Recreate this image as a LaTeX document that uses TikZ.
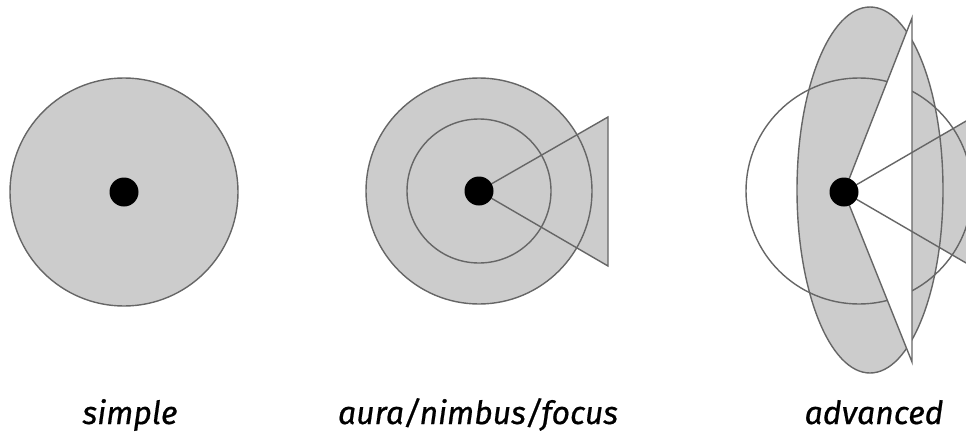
\documentclass[tikz,border=0pt]{standalone}
\usepackage{fontspec}
\setsansfont{Fira Sans}[FakeBold=0.6]
\begin{document}
\begin{tikzpicture}[x=1pt,y=-1pt,
	area/.style={ fill=black!20, draw=black!60, line width=1.4pt },
	rim/.style={ draw=black!60, line width=1.4pt },
	blank/.style={ fill=white, draw=black!60, line width=1.4pt },
	source/.style={ circle, fill=black, inner sep=0pt, minimum size=29pt },
	caption/.style={ anchor=base, font=\sffamily\itshape\fontsize{32}{34}\selectfont }
]
\useasboundingbox (0,0) rectangle (966,434);

% simple
\draw[area] (124,192) circle (114);
\node at (124,192) (s) [source] {};
\node at (130,424) (ls) [caption] {simple};

% aura/nimbus/focus
\coordinate (ac) at (479,191);
\coordinate (f1) at (608,117);
\coordinate (f2) at (608,266);
\fill[black!20] (ac) circle (113);
\fill[black!20] (ac) -- (f1) -- (f2) -- cycle;
\draw[rim] (ac) circle (113);
\draw[rim] (ac) circle (72);
\draw[rim] (ac) -- (f1) -- (f2) -- cycle;
\node at (ac) (a) [source] {};
\node at (478,424) (la) [caption] {aura/nimbus/focus};

% advanced
\coordinate (dc) at (844,192);
\coordinate (g1) at (973,117);
\coordinate (g2) at (973,267);
\coordinate (w1) at (912,18);
\coordinate (w2) at (912,362);
\fill[black!20] (870,190) ellipse (73 and 183);
\fill[black!20] (dc) -- (g1) -- (g2) -- cycle;
\draw[rim] (870,190) ellipse (73 and 183);
\draw[rim] (859,191) circle (113);
\draw[blank] (dc) -- (w1) -- (w2) -- cycle;
\draw[rim] (g1) -- (dc) -- (g2);
\node at (dc) (d) [source] {};
\node at (874,424) (ld) [caption] {advanced};

\end{tikzpicture}
\end{document}
